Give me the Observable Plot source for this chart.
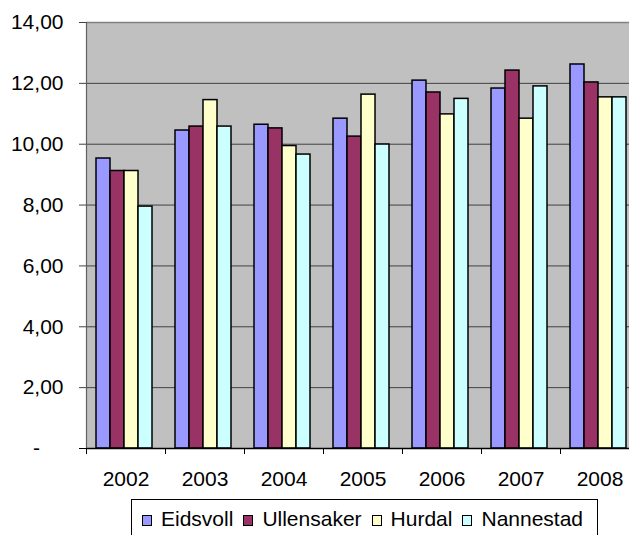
<!DOCTYPE html>
<html><head><meta charset="utf-8">
<script src="https://cdn.jsdelivr.net/npm/d3@7"></script>
<script src="https://cdn.jsdelivr.net/npm/@observablehq/plot@0.6"></script>
<style>
html,body{margin:0;padding:0;background:#fff;overflow:hidden;width:629px;height:535px;}
#chart{position:relative;width:629px;height:535px;overflow:hidden;}
#chart svg{max-width:none;}
.legend{position:absolute;left:131px;top:499px;width:467px;height:46px;border:1px solid #000;box-sizing:border-box;
  padding:8px 0 0 10px;white-space:nowrap;font-family:"Liberation Sans",Arial,sans-serif;font-size:21px;line-height:21px;color:#000;}
.sw{display:inline-block;width:10px;height:11px;border:1.5px solid #000;box-sizing:border-box;vertical-align:baseline;margin-right:9px;}
.it{margin-right:10px;}
</style></head>
<body><div id="chart"></div>
<script>
const years = ["2002","2003","2004","2005","2006","2007","2008"];
const series = ["Eidsvoll","Ullensaker","Hurdal","Nannestad"];
const eidsvoll   = [9.53,10.45,10.64,10.84,12.09,11.83,12.62];
const ullensaker = [9.12,10.58,10.52,10.25,11.70,12.42,12.03];
const hurdal     = [9.12,11.45,9.94,11.63,10.98,10.84,11.54];
const nannestad  = [7.95,10.58,9.66,9.99,11.49,11.90,11.54];
const colors = ["#9999FF","#993366","#FFFFCC","#CCFFFF"];
const yTicks = [0,2,4,6,8,10,12,14];

const values = [eidsvoll, ullensaker, hurdal, nannestad];
const data = [];
years.forEach((yr, i) => series.forEach((s, j) => data.push({year: yr, series: s, value: values[j][i]})));

const fmt = d => d.toFixed(2).replace(".", ",");

const plot = Plot.plot({
  width: 640, height: 497,
  marginLeft: 86, marginRight: 0.5, marginTop: 22, marginBottom: 49,
  style: {fontFamily: "Liberation Sans, Arial, sans-serif", fontSize: "21px", background: "transparent", color: "#000"},
  fx: {domain: years, padding: 0, label: null, axis: null},
  x: {domain: series, padding: 0, paddingOuter: 0.71, align: 0.45, axis: null},
  y: {domain: [0, 14], axis: null},
  color: {domain: series, range: colors},
  marks: [
    Plot.frame({fill: "#C0C0C0", facet: "super"}),
    Plot.ruleY(yTicks.filter(d => d > 0 && d < 14), {stroke: "#404040", strokeWidth: 1}),
    Plot.ruleY([14], {stroke: "#808080", strokeWidth: 1.5}),
    Plot.barY(data, {fx: "year", x: "series", y: "value", fill: "series", stroke: "#000", strokeWidth: 1.5}),
    Plot.ruleY([0], {stroke: "#000", strokeWidth: 1.5}),
    Plot.frame({anchor: "left", stroke: "#606060", strokeWidth: 1.2, facet: "super"}),
    Plot.axisY({ticks: yTicks.filter(d => d > 0), tickSize: 7, tickPadding: 16, tickFormat: fmt, label: null, stroke: "#404040"}),
    Plot.axisY({ticks: [0], tickSize: 7, tickPadding: 43, tickFormat: () => "-", textAnchor: "middle", label: null}),
    Plot.axisFx({anchor: "bottom", tickSize: 0, tickPadding: 23, label: null}),
    Plot.axisFx({anchor: "bottom", tickSize: 6, tickFormat: () => "", dx: -39.5, label: null, stroke: "#000"})
  ]
});
const chart = document.getElementById("chart");
chart.appendChild(plot);

const legend = document.createElement("div");
legend.className = "legend";
series.forEach((s, j) => {
  const sw = document.createElement("span");
  sw.className = "sw";
  sw.style.background = colors[j];
  const t = document.createElement("span");
  t.className = "it";
  t.textContent = s;
  legend.appendChild(sw);
  legend.appendChild(t);
});
chart.appendChild(legend);
</script>
</body></html>
